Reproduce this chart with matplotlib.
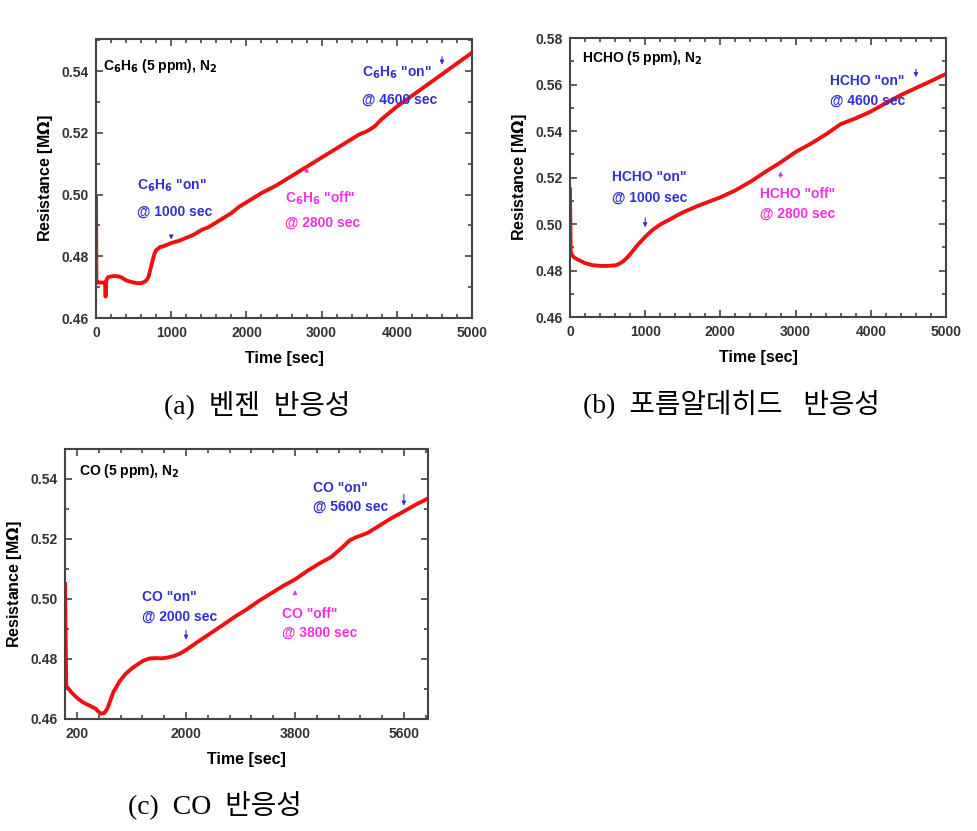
import matplotlib
matplotlib.use("Agg")
import matplotlib.pyplot as plt
from matplotlib.ticker import MultipleLocator, FixedLocator

plt.rcParams['font.family'] = ['Liberation Sans', 'DejaVu Sans']
plt.rcParams['font.weight'] = 'bold'
plt.rcParams['mathtext.default'] = 'bf'

# ---- data ----
t_a = [0, 5, 20, 60, 100, 120, 125, 130, 135, 140, 160, 200, 250, 300, 350, 400, 450, 500, 550, 600,
       650, 680, 700, 720, 750, 780, 800, 850, 900, 950, 1000, 1100, 1200, 1300, 1400, 1500, 1600,
       1700, 1800, 1900, 2000, 2200, 2400, 2600, 2800, 3000, 3200, 3400, 3500, 3600, 3700, 3800,
       4000, 4200, 4400, 4600, 4800, 5000]
r_a = [0.499, 0.472, 0.4715, 0.4715, 0.4715, 0.4715, 0.467, 0.467, 0.4715, 0.4725, 0.4732, 0.4735,
       0.4736, 0.4735, 0.473, 0.4722, 0.4718, 0.4715, 0.4713, 0.4713, 0.4718, 0.4725, 0.4735, 0.4755,
       0.4785, 0.481, 0.482, 0.483, 0.4833, 0.4838, 0.4843, 0.485, 0.486, 0.487, 0.4885, 0.4895,
       0.491, 0.4925, 0.494, 0.496, 0.4975, 0.5005, 0.503, 0.506, 0.509, 0.512, 0.515, 0.518, 0.5195,
       0.5205, 0.522, 0.5245, 0.5285, 0.532, 0.5355, 0.539, 0.5425, 0.546]

t_b = [0, 10, 30, 60, 100, 150, 200, 300, 400, 500, 600, 650, 700, 750, 800, 850, 900, 1000, 1100,
       1200, 1300, 1400, 1500, 1700, 2000, 2200, 2400, 2600, 2800, 3000, 3200, 3400, 3600, 3800,
       4000, 4200, 4400, 4600, 4800, 5000]
r_b = [0.515, 0.488, 0.4865, 0.4855, 0.4848, 0.484, 0.4832, 0.4823, 0.482, 0.482, 0.4822, 0.4828,
       0.4838, 0.4852, 0.487, 0.489, 0.491, 0.4945, 0.4975, 0.4998, 0.5015, 0.5033, 0.505, 0.5078,
       0.5115, 0.5145, 0.5182, 0.5225, 0.5265, 0.531, 0.5345, 0.5385, 0.543, 0.5455, 0.5484, 0.552,
       0.5555, 0.5585, 0.5615, 0.5646]

t_c = [0, 20, 100, 200, 300, 400, 500, 585, 650, 700, 800, 900, 1000, 1100, 1200, 1300, 1400, 1500,
       1600, 1700, 1800, 1900, 2000, 2200, 2400, 2600, 2800, 3000, 3200, 3400, 3600, 3800, 4000,
       4200, 4400, 4600, 4700, 4800, 5000, 5200, 5400, 5600, 5800, 6000]
r_c = [0.505, 0.471, 0.469, 0.467, 0.4655, 0.4645, 0.4635, 0.4618, 0.462, 0.4635, 0.469, 0.4725,
       0.475, 0.4768, 0.4782, 0.4795, 0.4802, 0.4803, 0.4802, 0.4805, 0.481, 0.4818, 0.483, 0.4858,
       0.4885, 0.4912, 0.494, 0.4965, 0.4993, 0.5018, 0.5043, 0.5065, 0.5093, 0.5118, 0.514, 0.5175,
       0.5195, 0.5205, 0.522, 0.5245, 0.527, 0.5292, 0.5315, 0.5335]

BLUE = '#3030d0'
MAG = '#ee33dd'
LINE = '#ee1111'
FRAME = '#444444'

fig = plt.figure(figsize=(9.78, 8.31), dpi=100)


def style(ax, xlim, ylim, xticks, xminor, yticks, ymin):
    ax.set_xlim(*xlim)
    ax.set_ylim(*ylim)
    ax.set_xticks(xticks)
    ax.set_xticklabels([str(v) for v in xticks])
    ax.xaxis.set_minor_locator(xminor)
    ax.set_yticks(yticks)
    ax.set_yticklabels(['%.2f' % v for v in yticks])
    ax.yaxis.set_minor_locator(ymin)
    ax.tick_params(which='both', direction='in', top=True, right=True, color=FRAME,
                   labelsize=10, labelcolor='#333333', width=1.2)
    ax.tick_params(which='major', length=5)
    ax.tick_params(which='minor', length=3)
    ax.tick_params(axis='x', which='major', pad=6)
    ax.tick_params(axis='y', which='major', pad=5)
    for lab in ax.get_xticklabels() + ax.get_yticklabels():
        lab.set_fontweight('bold')
    for s in ax.spines.values():
        s.set_color(FRAME)
        s.set_linewidth(1.5)
    ax.set_xlabel('Time [sec]', fontsize=11.5, fontweight='bold', labelpad=8)
    ax.set_ylabel('Resistance [M$\\Omega$]', fontsize=11.5, fontweight='bold', labelpad=5)


def ann(ax, x, y, s, color, size=10):
    ax.text(x, y, s, color=color, fontsize=size, fontweight='bold', ha='left', va='center')


def arrow(ax, x, y0, y1, color):
    ax.annotate('', xy=(x, y1), xytext=(x, y0),
                arrowprops=dict(arrowstyle='-|>', color=color, lw=0.8, mutation_scale=6))


# (a)
axa = fig.add_axes([0.0982, 0.6173, 0.3845, 0.3357])
axa.plot(t_a, r_a, color=LINE, lw=2.8)
style(axa, (0, 5000), (0.46, 0.5504), [0, 1000, 2000, 3000, 4000, 5000], MultipleLocator(200),
      [0.46, 0.48, 0.50, 0.52, 0.54], MultipleLocator(0.01))
ann(axa, 93, 0.5418, 'C$_6$H$_6$ (5 ppm), N$_2$', 'black', 10)
ann(axa, 545, 0.5027, 'C$_6$H$_6$ "on"', BLUE)
ann(axa, 545, 0.4944, '@ 1000 sec', BLUE)
arrow(axa, 1000, 0.4878, 0.4845, BLUE)
ann(axa, 2513, 0.4989, 'C$_6$H$_6$ "off"', MAG)
ann(axa, 2513, 0.4908, '@ 2800 sec', MAG)
arrow(axa, 2800, 0.5065, 0.5097, MAG)
ann(axa, 3537, 0.5395, 'C$_6$H$_6$ "on"', BLUE)
ann(axa, 3537, 0.5308, '@ 4600 sec', BLUE)
arrow(axa, 4600, 0.5456, 0.5412, BLUE)

# (b)
axb = fig.add_axes([0.5828, 0.6185, 0.3845, 0.3357])
axb.plot(t_b, r_b, color=LINE, lw=2.8)
style(axb, (0, 5000), (0.46, 0.58), [0, 1000, 2000, 3000, 4000, 5000], MultipleLocator(200),
      [0.46, 0.48, 0.50, 0.52, 0.54, 0.56, 0.58], MultipleLocator(0.01))
ann(axb, 155, 0.5714, 'HCHO (5 ppm), N$_2$', 'black', 10)
ann(axb, 554, 0.5201, 'HCHO "on"', BLUE)
ann(axb, 554, 0.5114, '@ 1000 sec', BLUE)
arrow(axb, 1000, 0.5038, 0.4974, BLUE)
ann(axb, 2527, 0.5129, 'HCHO "off"', MAG)
ann(axb, 2527, 0.5043, '@ 2800 sec', MAG)
arrow(axb, 2800, 0.5189, 0.5239, MAG)
ann(axb, 3457, 0.5616, 'HCHO "on"', BLUE)
ann(axb, 3457, 0.5531, '@ 4600 sec', BLUE)
arrow(axb, 4600, 0.5678, 0.5620, BLUE)

# (c)
axc = fig.add_axes([0.0665, 0.1348, 0.3712, 0.3249])
axc.plot(t_c, r_c, color=LINE, lw=2.8)
style(axc, (0, 6000), (0.46, 0.55), [200, 2000, 3800, 5600],
      FixedLocator([200 + 360 * k for k in range(-1, 17)]),
      [0.46, 0.48, 0.50, 0.52, 0.54], MultipleLocator(0.01))
ann(axc, 228, 0.5425, 'CO (5 ppm), N$_2$', 'black', 10)
ann(axc, 1271, 0.5006, 'CO "on"', BLUE)
ann(axc, 1271, 0.4942, '@ 2000 sec', BLUE)
arrow(axc, 2000, 0.4905, 0.4855, BLUE)
ann(axc, 3580, 0.4950, 'CO "off"', MAG)
ann(axc, 3580, 0.4887, '@ 3800 sec', MAG)
arrow(axc, 3800, 0.5011, 0.5039, MAG)
ann(axc, 4102, 0.5371, 'CO "on"', BLUE)
ann(axc, 4102, 0.5307, '@ 5600 sec', BLUE)
arrow(axc, 5600, 0.5358, 0.5302, BLUE)

# captions
cap_font = ['Liberation Serif', 'Noto Sans CJK KR']
fig.text(257 / 978, 1 - 405 / 831, '(a)  벤젠  반응성', family=cap_font, fontsize=20,
         fontweight='normal', ha='center', va='center')
fig.text(731 / 978, 1 - 405 / 831, '(b)  포름알데히드   반응성', family=cap_font, fontsize=20,
         fontweight='normal', ha='center', va='center')
fig.text(215 / 978, 1 - 805 / 831, '(c)  CO  반응성', family=cap_font, fontsize=20,
         fontweight='normal', ha='center', va='center')

fig.savefig('out.png', dpi=100)
